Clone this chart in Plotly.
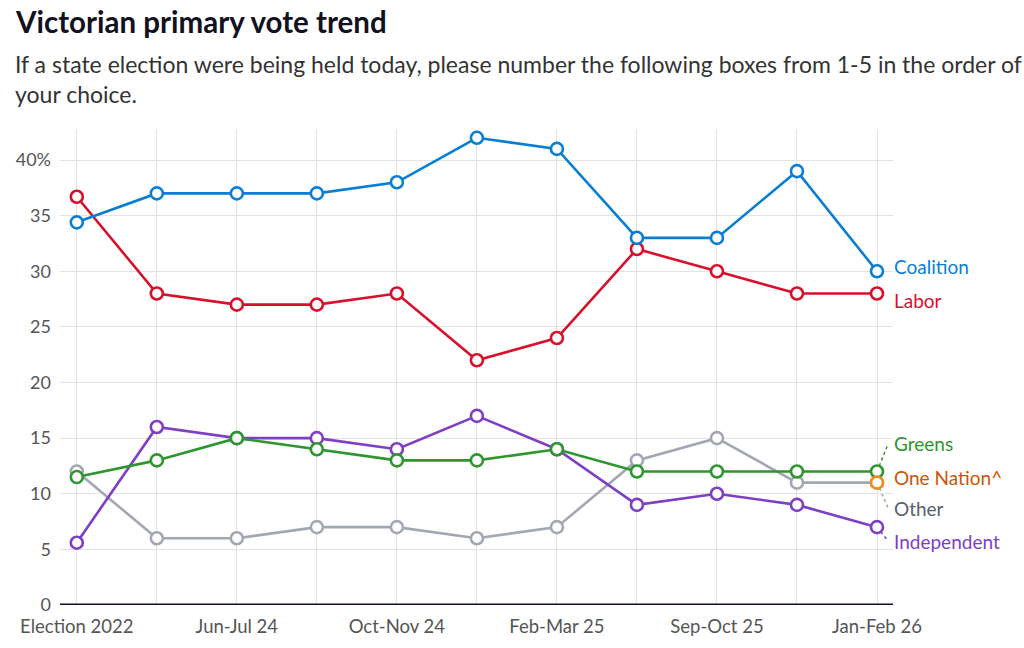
import plotly.graph_objects as go

categories = ["Election 2022", "Apr-May 24", "Jun-Jul 24", "Aug-Sep 24", "Oct-Nov 24",
              "Dec 24-Jan 25", "Feb-Mar 25", "Jun-Jul 25", "Sep-Oct 25", "Nov-Dec 25", "Jan-Feb 26"]
shown_ticks = ["Election 2022", "Jun-Jul 24", "Oct-Nov 24", "Feb-Mar 25", "Sep-Oct 25", "Jan-Feb 26"]

coalition = [34.4, 37, 37, 37, 38, 42, 41, 33, 33, 39, 30]
labor = [36.7, 28, 27, 27, 28, 22, 24, 32, 30, 28, 28]
greens = [11.5, 13, 15, 14, 13, 13, 14, 12, 12, 12, 12]
independent = [5.6, 16, 15, 15, 14, 17, 14, 9, 10, 9, 7]
other = [12, 6, 6, 7, 7, 6, 7, 13, 15, 11, 11]
one_nation = [None] * 10 + [11]

y_ticks = [0, 5, 10, 15, 20, 25, 30, 35, 40]
y_tick_text = ["0", "5", "10", "15", "20", "25", "30", "35", "40%"]

# label name, colour of line, colour of label, data, label y position (data units)
series = [
    ("Other", "#a3a7b3", "#5a5f6b", other, 8.7),
    ("Independent", "#7d3fc4", "#7d3fc4", independent, 5.75),
    ("Greens", "#2e962e", "#2e962e", greens, 14.5),
    ("Labor", "#d7112b", "#d7112b", labor, 27.4),
    ("Coalition", "#0a7ed3", "#0a7ed3", coalition, 30.4),
    ("One Nation^", "#f28c1b", "#c9560a", one_nation, 11.5),
]

FONT = "Lato"
fig = go.Figure()
for name, col, lcol, vals, ly in series:
    fig.add_trace(go.Scatter(
        x=categories, y=vals, mode="lines+markers", name=name,
        line=dict(color=col, width=2.6),
        marker=dict(symbol="circle", size=12, color="white", line=dict(color=col, width=2.6)),
        cliponaxis=False, showlegend=False, hoverinfo="skip",
    ))

last_x = len(categories) - 1
annotations = []
shapes = []
for name, col, lcol, vals, ly in series:
    last_val = vals[-1]
    annotations.append(dict(
        x=last_x + 0.19, y=ly, xref="x", yref="y", text=name, showarrow=False,
        xanchor="left", yanchor="middle", font=dict(family=FONT, size=19, color=lcol),
    ))
    if abs(ly - last_val) > 1.0:
        shapes.append(dict(
            type="line", xref="x", yref="y", x0=last_x, y0=last_val,
            x1=last_x + 0.14, y1=ly, line=dict(color=col, width=1.5, dash="dot"), layer="below",
        ))

# thick baseline at zero
shapes.append(dict(type="line", xref="paper", yref="y", x0=0, x1=1, y0=0, y1=0,
                   line=dict(color="#0d1030", width=3), layer="above"))

annotations.append(dict(
    x=0, y=1, xref="paper", yref="paper", xanchor="left", yanchor="top",
    xshift=-47, yshift=128,
    text="<b>Victorian primary vote trend</b>", showarrow=False,
    font=dict(family=FONT, size=29.5, color="#111122"),
))
annotations.append(dict(
    x=0, y=1, xref="paper", yref="paper", xanchor="left", yanchor="top",
    xshift=-47, yshift=82, align="left",
    text="If a state election were being held today, please number the following boxes from 1-5 in the order of<br>your choice.",
    showarrow=False, font=dict(family=FONT, size=23, color="#333333"),
))

fig.update_layout(
    width=1024, height=648,
    margin=dict(l=60, r=131, t=130, b=43),
    paper_bgcolor="white", plot_bgcolor="white",
    font=dict(family=FONT, size=17, color="#555555"),
    annotations=annotations, shapes=shapes,
    xaxis=dict(
        type="category", categoryorder="array", categoryarray=categories,
        range=[-0.21, 10.2], tickmode="array", tickvals=categories,
        ticktext=[c if c in shown_ticks else "" for c in categories],
        showgrid=True, gridcolor="#e3e3e3", gridwidth=1, zeroline=False,
        showline=False, ticks="", ticklabelstandoff=8,
        tickfont=dict(family=FONT, size=18.5, color="#555555"),
    ),
    yaxis=dict(
        range=[0, 42.7], tickmode="array", tickvals=y_ticks, ticktext=y_tick_text,
        showgrid=True, gridcolor="#e3e3e3", gridwidth=1, zeroline=False,
        showline=False, ticks="", ticklabelstandoff=8,
        tickfont=dict(family=FONT, size=18, color="#555555"),
    ),
)

fig.write_html("out.html")
